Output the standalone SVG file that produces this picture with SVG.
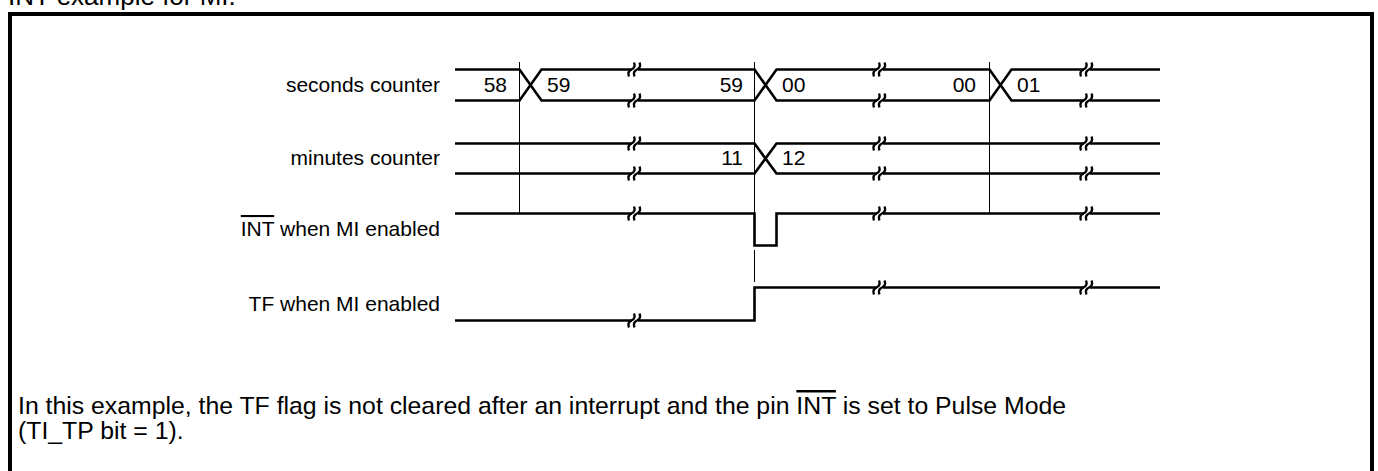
<svg xmlns="http://www.w3.org/2000/svg" width="1378" height="471" viewBox="0 0 1378 471">
<style>
text{font-family:"Liberation Sans",Arial,sans-serif;fill:#000}
.lbl{font-size:21px}
.val{font-size:21px}
.body{font-size:24.8px}
.sig{fill:none;stroke:#000;stroke-width:2.6;stroke-linejoin:miter}
.guide{fill:none;stroke:#000;stroke-width:1}
.frame{fill:none;stroke:#000;stroke-width:4}
.ov{text-decoration:overline}
.bm{fill:none;stroke:#000;stroke-width:2.3}
</style>
<defs>
<g id="brk">
<rect x="-4" y="-2.5" width="6" height="5" fill="#fff"/>
<path class="bm" d="M-7,7 Q-9,2 -4.5,0 Q0,-2 -2,-7"/>
<path class="bm" d="M-1.5,7 Q-3.5,2 1,0 Q5.5,-2 3.5,-7"/>
</g>
</defs>
<rect width="1378" height="471" fill="#fff"/>
<text x="8" y="5" style="font-size:26px">INT example for MI.</text>
<path class="frame" d="M10,471 V14 H1372 V471"/>

<g id="connectors">
<line class="guide" x1="519.5" y1="62" x2="519.5" y2="213"/>
<line class="guide" x1="754.5" y1="62" x2="754.5" y2="213"/>
<line class="guide" x1="754.5" y1="250" x2="754.5" y2="282"/>
<line class="guide" x1="989.5" y1="62" x2="989.5" y2="213"/>
</g>

<g id="seconds-counter">
<text class="lbl" x="440" y="92" text-anchor="end">seconds counter</text>
<path class="sig" d="M455,69.5 H519.5 L541.5,100.5 H754.5 L776.5,69.5 H989.5 L1011.5,100.5 H1160"/>
<path class="sig" d="M455,100.5 H519.5 L541.5,69.5 H754.5 L776.5,100.5 H989.5 L1011.5,69.5 H1160"/>
<use href="#brk" x="636" y="69.5"/><use href="#brk" x="636" y="100.5"/>
<use href="#brk" x="881" y="69.5"/><use href="#brk" x="881" y="100.5"/>
<use href="#brk" x="1088" y="69.5"/><use href="#brk" x="1088" y="100.5"/>
<text class="val" x="507" y="92" text-anchor="end">58</text>
<text class="val" x="547" y="92">59</text>
<text class="val" x="743" y="92" text-anchor="end">59</text>
<text class="val" x="782" y="92">00</text>
<text class="val" x="976" y="92" text-anchor="end">00</text>
<text class="val" x="1017" y="92">01</text>
</g>

<g id="minutes-counter">
<text class="lbl" x="440" y="165" text-anchor="end">minutes counter</text>
<path class="sig" d="M455,143.5 H754.5 L776.5,173.5 H1160"/>
<path class="sig" d="M455,173.5 H754.5 L776.5,143.5 H1160"/>
<use href="#brk" x="636" y="143.5"/><use href="#brk" x="636" y="173.5"/>
<use href="#brk" x="881" y="143.5"/><use href="#brk" x="881" y="173.5"/>
<use href="#brk" x="1088" y="143.5"/><use href="#brk" x="1088" y="173.5"/>
<text class="val" x="743" y="165" text-anchor="end">11</text>
<text class="val" x="782" y="165">12</text>
</g>

<g id="int-signal">
<text class="lbl" x="440" y="236" text-anchor="end"><tspan class="ov">INT</tspan> when MI enabled</text>
<path class="sig" d="M455,213.5 H754.5 V245.5 H776.5 V213.5 H1160"/>
<use href="#brk" x="636" y="213.5"/>
<use href="#brk" x="881" y="213.5"/>
<use href="#brk" x="1088" y="213.5"/>
</g>

<g id="tf-signal">
<text class="lbl" x="440" y="311" text-anchor="end">TF when MI enabled</text>
<path class="sig" d="M455,320.5 H754.5 V287.5 H1160"/>
<use href="#brk" x="636" y="320.5"/>
<use href="#brk" x="881" y="287.5"/>
<use href="#brk" x="1088" y="287.5"/>
</g>

<g id="note">
<text class="body" x="18" y="414">In this example, the TF flag is not cleared after an interrupt and the pin <tspan class="ov">INT</tspan> is set to Pulse Mode</text>
<text class="body" x="18" y="439">(TI_TP bit = 1).</text>
</g>
</svg>
